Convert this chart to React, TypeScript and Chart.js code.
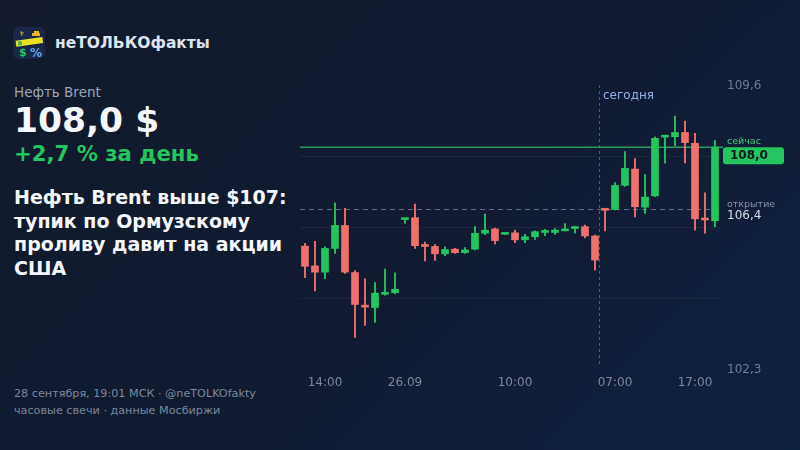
import React, { useEffect, useRef } from "react";
import { Chart, registerables } from "chart.js";

Chart.register(...registerables);

// ---- data (hourly candles, Brent, $) ----
const opens = [105.46, 104.95, 104.79, 105.40, 105.99, 104.78, 103.92, 103.88, 104.22, 104.26,
  106.14, 106.19, 105.48, 105.45, 105.26, 105.38, 105.29, 105.38, 105.79, 105.90,
  105.76, 105.80, 105.62, 105.70, 105.81, 105.81, 105.85, 105.91, 105.96, 105.72,
  106.41, 106.40, 107.02, 107.44, 106.46, 106.75, 108.26, 108.27, 108.38, 108.10,
  106.17, 106.11];
const highs = [105.53, 105.58, 105.44, 106.57, 106.43, 104.83, 104.62, 104.52, 104.87, 104.77,
  106.16, 106.54, 105.56, 105.50, 105.44, 105.40, 105.42, 105.96, 106.28, 105.92,
  105.80, 105.87, 105.76, 105.85, 105.89, 105.91, 106.04, 105.96, 106.00, 105.74,
  106.41, 107.09, 107.89, 107.71, 107.30, 108.27, 108.29, 108.80, 108.67, 108.36,
  106.83, 108.17];
const lows = [104.65, 104.31, 104.62, 105.27, 104.76, 103.11, 103.42, 103.50, 104.20, 104.23,
  106.04, 105.40, 105.08, 105.09, 105.21, 105.27, 105.27, 105.36, 105.75, 105.51,
  105.76, 105.55, 105.55, 105.63, 105.73, 105.76, 105.85, 105.80, 105.67, 104.84,
  105.85, 106.39, 106.99, 106.21, 106.30, 106.73, 107.59, 108.04, 107.60, 105.87,
  105.79, 105.96];
const closes = [104.94, 104.79, 105.40, 105.99, 104.79, 103.96, 103.89, 104.25, 104.27, 104.35,
  106.16, 105.47, 105.45, 105.26, 105.37, 105.29, 105.36, 105.79, 105.87, 105.60,
  105.80, 105.62, 105.70, 105.83, 105.85, 105.87, 105.90, 105.96, 105.72, 105.10,
  106.38, 107.02, 107.46, 106.47, 106.72, 108.23, 108.29, 108.38, 108.12, 106.16,
  106.13, 108.0];

const xTickIndex = [2, 10, 21, 31, 39];
const xTickLabels = ["14:00", "26.09", "10:00", "07:00", "17:00"];

const Y_MIN = 102.3;
const Y_MAX = 109.6;
const OPEN_PRICE = 106.4;
const NOW_PRICE = 108.0;
const DAY_CHANGE = 2.7;
const TODAY_AT = 29.5;

const GREEN = "#22c55e";
const RED = "#f0716c";
const FONT = '"DejaVu Sans", sans-serif';

const fmt = (v: number) => v.toFixed(1).replace(".", ",");

const overlay = {
  id: "overlay",
  beforeDatasetsDraw(chart: any) {
    const { ctx, chartArea: a, scales } = chart;
    const x = scales.x;
    const y = scales.y;
    ctx.save();
    // grid
    ctx.strokeStyle = "rgba(255,255,255,0.05)";
    ctx.lineWidth = 1;
    for (let k = 1; k < 4; k++) {
      const v = Y_MIN + (k * (Y_MAX - Y_MIN)) / 4;
      const py = Math.round(y.getPixelForValue(v)) + 0.5;
      ctx.beginPath();
      ctx.moveTo(a.left, py);
      ctx.lineTo(a.right, py);
      ctx.stroke();
    }
    // today vertical line
    const tx = Math.round(x.getPixelForValue(TODAY_AT)) - 0.5;
    ctx.setLineDash([3, 3]);
    ctx.strokeStyle = "#4a5a78";
    ctx.beginPath();
    ctx.moveTo(tx, a.top);
    ctx.lineTo(tx, a.bottom - 2);
    ctx.stroke();
    // open dashed line
    const oy = Math.round(y.getPixelForValue(OPEN_PRICE)) + 0.5;
    ctx.setLineDash([5, 4]);
    ctx.strokeStyle = "rgba(140,152,172,0.65)";
    ctx.beginPath();
    ctx.moveTo(a.left, oy);
    ctx.lineTo(a.right + 2, oy);
    ctx.stroke();
    // now line
    const ny = y.getPixelForValue(NOW_PRICE);
    ctx.setLineDash([]);
    ctx.strokeStyle = "rgba(52,199,110,0.75)";
    ctx.lineWidth = 1.5;
    ctx.beginPath();
    ctx.moveTo(a.left, ny);
    ctx.lineTo(a.right + 3, ny);
    ctx.stroke();
    ctx.restore();
  },
  afterDraw(chart: any) {
    const { ctx, chartArea: a, scales } = chart;
    const x = scales.x;
    const y = scales.y;
    ctx.save();
    // x tick labels
    ctx.font = `12px ${FONT}`;
    ctx.fillStyle = "#7c889c";
    ctx.textAlign = "center";
    ctx.textBaseline = "middle";
    xTickIndex.forEach((idx, i) => {
      ctx.fillText(xTickLabels[i], x.getPixelForValue(idx), a.bottom + 14);
    });
    // y extreme labels
    ctx.textAlign = "left";
    ctx.fillStyle = "#6f7c93";
    ctx.fillText(fmt(Y_MAX), a.right + 7, y.getPixelForValue(Y_MAX) + 1);
    ctx.fillText(fmt(Y_MIN), a.right + 7, y.getPixelForValue(Y_MIN) + 1);
    // today label
    const tx = x.getPixelForValue(TODAY_AT);
    ctx.fillStyle = "#8fb0e8";
    ctx.textBaseline = "alphabetic";
    ctx.fillText("сегодня", tx + 3, a.top + 14);
    // now annotation
    const ny = y.getPixelForValue(NOW_PRICE);
    ctx.font = `9.5px ${FONT}`;
    ctx.fillStyle = "#3ccf74";
    ctx.fillText("сейчас", a.right + 7, ny - 3);
    const bx = a.right + 3;
    const bw = 61;
    const bh = 17;
    ctx.fillStyle = GREEN;
    ctx.beginPath();
    (ctx as any).roundRect(bx, ny, bw, bh, 3);
    ctx.fill();
    ctx.fillStyle = "#0b1220";
    ctx.font = `bold 12px ${FONT}`;
    ctx.textBaseline = "middle";
    ctx.fillText(fmt(NOW_PRICE), bx + 7, ny + bh / 2 + 0.5);
    // open annotation
    const oy = y.getPixelForValue(OPEN_PRICE);
    ctx.textBaseline = "alphabetic";
    ctx.font = `9.5px ${FONT}`;
    ctx.fillStyle = "#8793a8";
    ctx.fillText("открытие", a.right + 7, oy - 2);
    ctx.font = `12px ${FONT}`;
    ctx.fillStyle = "#d5dde8";
    ctx.fillText(fmt(OPEN_PRICE), a.right + 7, oy + 10);
    ctx.restore();
  },
};

function Logo() {
  return (
    <svg width="32" height="32" viewBox="0 0 32 32" style={{ position: "absolute", left: 13, top: 27 }}>
      <rect x="0" y="0" width="32" height="32" rx="6" fill="#1b2747" />
      <path d="M8 4 L9 9 M7 6 L11 6" stroke="#c9a227" strokeWidth="1" />
      <rect x="19" y="6" width="8" height="3" fill="#e8b923" />
      <rect x="21" y="4" width="5" height="2" fill="#e8b923" />
      <g transform="rotate(-8 16 16)">
        <rect x="3" y="12" width="27" height="6" fill="#e9e227" />
        <rect x="5" y="13" width="4" height="4" fill="#4caf50" />
      </g>
      <text x="6" y="29" fontSize="11" fontWeight="bold" fill="#22c55e" fontFamily="DejaVu Sans">$</text>
      <text x="17" y="30" fontSize="12" fontWeight="bold" fill="#5aa8f0" fontFamily="DejaVu Sans">%</text>
    </svg>
  );
}

export default function App() {
  const canvasRef = useRef<HTMLCanvasElement | null>(null);

  useEffect(() => {
    if (!canvasRef.current) return;
    const colors = opens.map((o, i) => (closes[i] >= o ? GREEN : RED));
    const chart = new Chart(canvasRef.current, {
      type: "bar",
      data: {
        labels: opens.map((_, i) => String(i)),
        datasets: [
          {
            label: "wick",
            data: opens.map((_, i) => [lows[i], highs[i]]) as any,
            backgroundColor: colors,
            barThickness: 1.2,
            grouped: false,
            order: 2,
            borderWidth: 0,
          } as any,
          {
            label: "body",
            data: opens.map((o, i) => [o, closes[i]]) as any,
            backgroundColor: colors,
            barThickness: 7,
            grouped: false,
            order: 1,
            borderWidth: 0,
            minBarLength: 2,
          } as any,
        ],
      },
      options: {
        animation: false,
        responsive: false,
        maintainAspectRatio: false,
        layout: { padding: { left: 300, right: 80, top: 85, bottom: 81 } },
        plugins: { legend: { display: false }, tooltip: { enabled: false } },
        scales: {
          x: { display: false, offset: true },
          y: { display: false, min: Y_MIN, max: Y_MAX },
        },
      },
      plugins: [overlay],
    });
    return () => chart.destroy();
  }, []);

  const text = (extra: React.CSSProperties): React.CSSProperties => ({
    position: "absolute",
    left: 14,
    margin: 0,
    fontFamily: FONT,
    whiteSpace: "nowrap",
    ...extra,
  });

  return (
    <div
      style={{
        position: "fixed",
        left: 0,
        top: 0,
        width: 800,
        height: 450,
        overflow: "hidden",
        background: "linear-gradient(135deg, #121a2b 0%, #101b31 55%, #0f2140 100%)",
      }}
    >
      <Logo />
      <div style={text({ left: 55, top: 36, fontSize: 15.5, lineHeight: "15.5px", fontWeight: "bold", color: "#dbe3ee" })}>
        неТОЛЬКОфакты
      </div>
      <div style={text({ top: 85, fontSize: 13.5, lineHeight: "14px", color: "#9aa5b8" })}>Нефть Brent</div>
      <div style={text({ top: 103, fontSize: 34.5, lineHeight: "34px", fontWeight: "bold", color: "#f4f7fb" })}>
        {fmt(NOW_PRICE)} $
      </div>
      <div style={text({ top: 143, fontSize: 21.2, lineHeight: "21px", fontWeight: "bold", color: GREEN })}>
        +{fmt(DAY_CHANGE)} % за день
      </div>
      <div
        style={text({
          top: 186,
          fontSize: 19,
          lineHeight: "23.7px",
          fontWeight: "bold",
          color: "#f4f7fb",
          whiteSpace: "normal",
          width: 290,
        })}
      >
        Нефть Brent выше $107:
        <br />
        тупик по Ормузскому
        <br />
        проливу давит на акции
        <br />
        США
      </div>
      <div style={text({ top: 385, fontSize: 11.2, lineHeight: "17px", color: "#7b879b" })}>
        28 сентября, 19:01 МСК · @neTOLKOfakty
        <br />
        часовые свечи · данные Мосбиржи
      </div>
      <canvas
        ref={canvasRef}
        width={800}
        height={450}
        style={{ position: "absolute", left: 0, top: 0, width: 800, height: 450 }}
      />
    </div>
  );
}
